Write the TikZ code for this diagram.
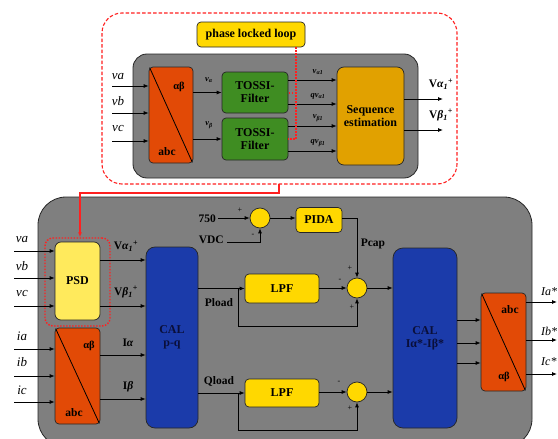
\documentclass[tikz,border=0pt]{standalone}
\usepackage{fontspec}
\setmainfont{Liberation Serif}
\usetikzlibrary{arrows.meta,calc}
\definecolor{grayfill}{HTML}{7F7F7F}
\definecolor{orng}{HTML}{E24A06}
\definecolor{grn}{HTML}{3F8D22}
\definecolor{seqc}{HTML}{E1A100}
\definecolor{ylw}{HTML}{FFD800}
\definecolor{psdc}{HTML}{FFEA5C}
\definecolor{blu}{HTML}{1B3BAA}
\definecolor{redl}{HTML}{FF2020}
\definecolor{navy}{HTML}{0A0F3A}
\begin{document}
\begin{tikzpicture}[x=1pt,y=-1pt,
 blk/.style={draw=black!85, line width=0.7pt, rounded corners=4pt, inner sep=0pt, align=center, font=\bfseries\fontsize{12}{13}\selectfont},
 arr/.style={-{Latex[length=5pt,width=4pt]}, line width=0.8pt},
 ln/.style={line width=0.8pt},
 sumc/.style={circle, draw=black!85, line width=0.7pt, fill=ylw, minimum size=20pt, inner sep=0pt},
 lbl/.style={font=\bfseries\fontsize{11.5}{12}\selectfont, inner sep=0pt},
 ilbl/.style={font=\itshape\fontsize{13}{14}\selectfont, inner sep=0pt},
 sml/.style={font=\bfseries\itshape\fontsize{8.5}{9}\selectfont, inner sep=0pt},
 sgn/.style={font=\fontsize{8}{8}\selectfont, inner sep=0pt},
 gbox/.style={fill=grayfill, draw=black!85, line width=0.8pt},
]
\useasboundingbox (0,0) rectangle (558,439);
\begin{scope}
\clip (0,0) rectangle (558,439);
\fill[white] (0,0) rectangle (558,439);
% ---------------- top part ----------------
\draw[redl, line width=1.1pt, dash pattern=on 3.5pt off 2pt, rounded corners=20pt] (102,13) rectangle (457,184);
\draw[gbox, rounded corners=14pt] (133,54) rectangle (418,178);
\node[blk, fill=ylw, minimum width=108pt, minimum height=25pt] (pll) at (251,34.5) {phase locked loop};
\node[blk, fill=orng, minimum width=44pt, minimum height=96pt] (oa) at (171,115) {};
\draw[ln] ($(oa.north west)+(1,1)$) -- ($(oa.south east)+(-1,-1)$);
\node[lbl, font=\bfseries\fontsize{10.5}{10}\selectfont] (oaab) at (179,87) {αβ};
\node[lbl] (oaabc) at (167,152) {abc};
\node[blk, fill=grn, minimum width=66pt, minimum height=41pt] (t1) at (255,92.5) {TOSSI-\\Filter};
\node[blk, fill=grn, minimum width=66pt, minimum height=42pt] (t2) at (255,139) {TOSSI-\\Filter};
\node[blk, fill=seqc, rounded corners=7pt, minimum width=67pt, minimum height=98pt] (seq) at (370.5,116) {Sequence\\estimation};
% inputs
\coordinate (ia1) at (112,86); \coordinate (ia2) at (112,113); \coordinate (ia3) at (112,141);
\draw[arr] (ia1) -- (ia1 -| oa.west);
\draw[arr] (ia2) -- (ia2 -| oa.west);
\draw[arr] (ia3) -- (ia3 -| oa.west);
\node[ilbl] (tva) at (118,77) {va};
\node[ilbl] (tvb) at (118,101) {vb};
\node[ilbl] (tvc) at (118,128) {vc};
% to TOSSI
\draw[arr] (t1.west -| oa.east) -- (t1.west);
\draw[arr] (t2.west -| oa.east) -- (t2.west);
\node[sml] (lva) at (209,80) {v\textsubscript{α}};
\node[sml] (lvb) at (209,125) {v\textsubscript{β}};
% TOSSI outputs
\coordinate (o1) at (288,80); \coordinate (o2) at (288,104);
\coordinate (o3) at (288,126); \coordinate (o4) at (288,151);
\draw[arr] (o1) -- (o1 -| seq.west);
\draw[arr] (o2) -- (o2 -| seq.west);
\draw[arr] (o3) -- (o3 -| seq.west);
\draw[arr] (o4) -- (o4 -| seq.west);
\node[sml] (lva1) at (318,72) {v\textsubscript{α1}};
\node[sml] (lqva1) at (318,96) {qv\textsubscript{α1}};
\node[sml] (lvb1) at (318,118) {v\textsubscript{β1}};
\node[sml] (lqvb1) at (318,143) {qv\textsubscript{β1}};
% PLL dotted
\draw[redl, dash pattern=on 1.5pt off 1.5pt, line width=1.2pt] (pll.south -| 296,0) -- (296,139) -- (t2.east |- 0,139);
\draw[redl, dash pattern=on 1.5pt off 1.5pt, line width=1.2pt] (296,93) -- (t1.east |- 0,93);
% seq outputs
\coordinate (s1) at (443,99); \coordinate (s2) at (443,130);
\draw[arr] (s1 -| seq.east) -- (s1);
\draw[arr] (s2 -| seq.east) -- (s2);
\node[lbl] (lVa) at (441,84) {V\textit{α}\textsubscript{\textit{1}}\textsuperscript{+}};
\node[lbl] (lVb) at (441,115) {V\textit{β}\textsubscript{\textit{1}}\textsuperscript{+}};
% ---------------- bottom part ----------------
\draw[gbox, rounded corners=28pt] (38,197) rectangle (532,447);
\node[blk, fill=psdc, rounded corners=6pt, minimum width=45pt, minimum height=78pt] (psd) at (77.5,281) {PSD};
\node[draw=redl, dash pattern=on 1.5pt off 1.5pt, line width=1.4pt, rounded corners=8pt, minimum width=65pt, minimum height=88pt, inner sep=0pt] (psdd) at (77.5,282) {};
\node[blk, fill=orng, minimum width=45pt, minimum height=96pt] (ob) at (77.5,376) {};
\draw[ln] ($(ob.north west)+(1,1)$) -- ($(ob.south east)+(-1,-1)$);
\node[lbl, font=\bfseries\fontsize{10.5}{10}\selectfont] (obab) at (89,346) {αβ};
\node[lbl] (obabc) at (74,413) {abc};
\node[blk, fill=blu, rounded corners=9pt, minimum width=52pt, minimum height=181pt, text=navy] (cal1) at (172,337.5) {CAL\\p-q};
\node[blk, fill=blu, rounded corners=10pt, minimum width=64pt, minimum height=180pt, text=navy] (cal2) at (425,338) {CAL\\Iα*-Iβ*};
\node[blk, fill=ylw, minimum width=74pt, minimum height=29pt] (lpf1) at (282,288.5) {LPF};
\node[blk, fill=ylw, minimum width=74pt, minimum height=28pt] (lpf2) at (282,393) {LPF};
\node[blk, fill=ylw, minimum width=46pt, minimum height=25pt] (pida) at (319,220) {PIDA};
\node[sumc] (c1) at (260,218) {};
\node[sumc] (c2) at (357,288) {};
\node[sumc] (c3) at (357,392) {};
\node[blk, fill=orng, minimum width=45pt, minimum height=98pt] (oc) at (503.5,342) {};
\draw[ln] ($(oc.north west)+(1,1)$) -- ($(oc.south east)+(-1,-1)$);
\node[lbl] (ocabc) at (510,310) {abc};
\node[lbl, font=\bfseries\fontsize{10.5}{10}\selectfont] (ocab) at (504,377) {αβ};
% red link
\coordinate (rl1) at (279,184); \coordinate (rl2) at (279,193); \coordinate (rl3) at (80,193);
\draw[redl, line width=1.2pt, -{Latex[length=5pt,width=4pt]}] (rl1) -- (rl2) -- (rl3) -- (rl3 |- psdd.north);
% v inputs
\coordinate (b1) at (14,251); \coordinate (b2) at (14,278); \coordinate (b3) at (14,306);
\draw[arr] (b1) -- (b1 -| psd.west);
\draw[arr] (b2) -- (b2 -| psd.west);
\draw[arr] (b3) -- (b3 -| psd.west);
\node[ilbl] (bva) at (22,240) {va};
\node[ilbl] (bvb) at (22,266) {vb};
\node[ilbl] (bvc) at (22,293) {vc};
\coordinate (b4) at (14,349); \coordinate (b5) at (14,376); \coordinate (b6) at (14,402);
\draw[arr] (b4) -- (b4 -| ob.west);
\draw[arr] (b5) -- (b5 -| ob.west);
\draw[arr] (b6) -- (b6 -| ob.west);
\node[ilbl] (bia) at (22,336) {ia};
\node[ilbl] (bib) at (22,362) {ib};
\node[ilbl] (bic) at (22,390) {ic};
% PSD / orange to CAL1
\coordinate (p1) at (100,260); \coordinate (p2) at (100,306);
\draw[arr] (p1) -- (p1 -| cal1.west);
\draw[arr] (p2) -- (p2 -| cal1.west);
\node[lbl] (lV1) at (126,246) {V\textit{α}\textsubscript{\textit{1}}\textsuperscript{+}};
\node[lbl] (lV2) at (126,292) {V\textit{β}\textsubscript{\textit{1}}\textsuperscript{+}};
\coordinate (p3) at (100,355); \coordinate (p4) at (100,399);
\draw[arr] (p3) -- (p3 -| cal1.west);
\draw[arr] (p4) -- (p4 -| cal1.west);
\node[lbl] (lIa) at (128,343) {I\textit{α}};
\node[lbl] (lIb) at (128,387) {I\textit{β}};
% Pload / Qload
\draw[arr] (lpf1.west -| cal1.east) -- (lpf1.west);
\draw[arr] (lpf2.west -| cal1.east) -- (lpf2.west);
\coordinate (br1) at (238,288.5); \coordinate (br2) at (238,393);
\draw[arr] (br1) -- (238,326) -- (c2.south |- 0,326) -- (c2.south);
\draw[arr] (br2) -- (238,430) -- (c3.south |- 0,430) -- (c3.south);
\node[lbl] (lpl) at (219,303) {Pload};
\node[lbl] (lql) at (219,381) {Qload};
\draw[arr] (lpf1.east |- c2.west) -- (c2.west);
\draw[arr] (lpf2.east |- c3.west) -- (c3.west);
\draw[arr] (c2.east) -- (c2.east -| cal2.west);
\draw[arr] (c3.east) -- (c3.east -| cal2.west);
% 750 / VDC
\coordinate (k750) at (218,218);
\draw[arr] (k750) -- (c1.west);
\node[lbl, anchor=east] (l750) at (216,219) {750};
\coordinate (kvdc) at (227,242);
\draw[arr] (kvdc) -- (c1.south |- kvdc) -- (c1.south);
\node[lbl, anchor=east] (lvdc) at (224,240) {VDC};
\draw[arr] (c1.east) -- (c1.east -| pida.west);
\draw[arr] (pida.east |- 0,218) -- (c2.north |- 0,218) -- (c2.north);
\node[lbl] (lpcap) at (373,244) {Pcap};
% signs
\node[sgn] (s1p) at (240,210) {+};
\node[sgn] (s1m) at (253,235) {-};
\node[sgn] (s2p) at (350,268) {+};
\node[sgn] (s2m) at (340,280) {-};
\node[sgn] (s2q) at (352,307) {+};
\node[sgn] (s3m) at (339,382) {-};
\node[sgn] (s3p) at (350,408) {+};
% CAL2 to orange
\coordinate (q1) at (457,320); \coordinate (q2) at (457,343); \coordinate (q3) at (457,363);
\draw[arr] (q1) -- (q1 -| oc.west);
\draw[arr] (q2) -- (q2 -| oc.west);
\draw[arr] (q3) -- (q3 -| oc.west);
% outputs
\coordinate (r1) at (557,302); \coordinate (r2) at (557,340); \coordinate (r3) at (557,374);
\draw[arr] (r1 -| oc.east) -- (r1);
\draw[arr] (r2 -| oc.east) -- (r2);
\draw[arr] (r3 -| oc.east) -- (r3);
\node[ilbl, anchor=west, font=\itshape\fontsize{12}{12}\selectfont] (lIas) at (541,292) {Ia*};
\node[ilbl, anchor=west, font=\itshape\fontsize{12}{12}\selectfont] (lIbs) at (541,331) {Ib*};
\node[ilbl, anchor=west, font=\itshape\fontsize{12}{12}\selectfont] (lIcs) at (541,362) {Ic*};
\end{scope}
\end{tikzpicture}
\end{document}
